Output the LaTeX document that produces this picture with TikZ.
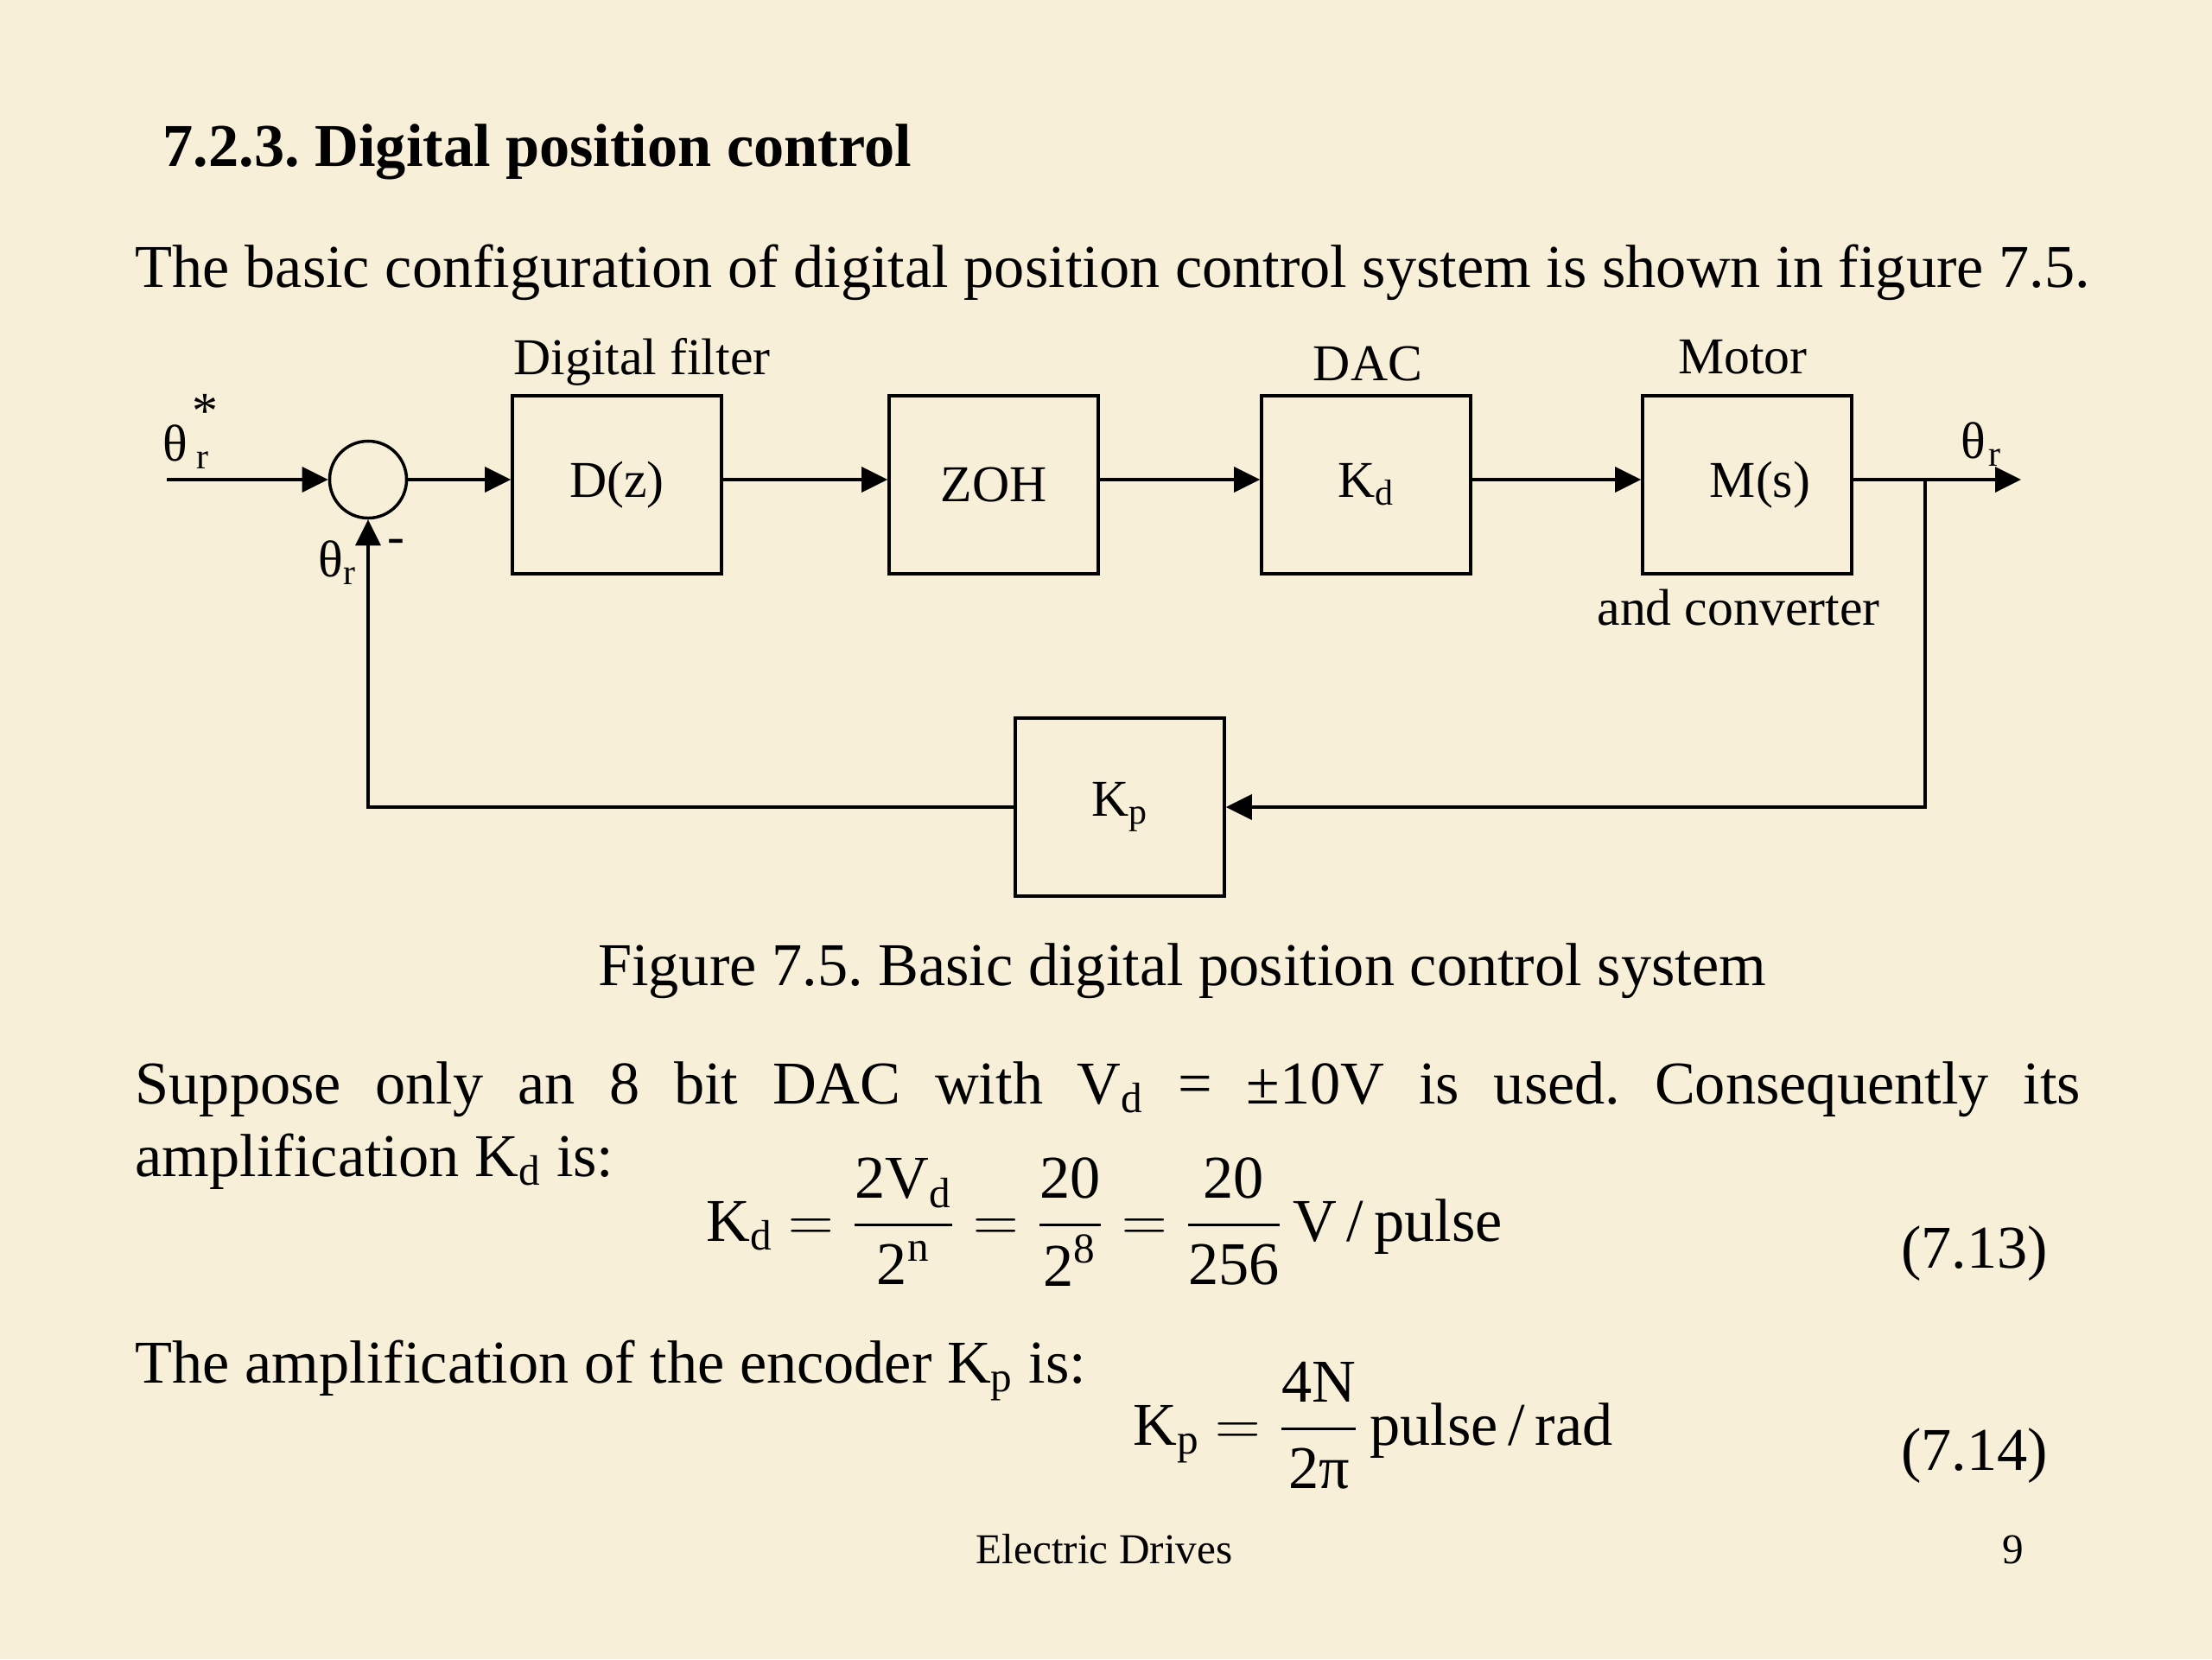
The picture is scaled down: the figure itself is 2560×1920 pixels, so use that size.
\documentclass[tikz,border=0pt]{standalone}
\usepackage{amsmath}
\usepackage{fontspec}
\setmainfont{Liberation Serif}
\usetikzlibrary{arrows.meta,positioning}
\definecolor{slidebg}{RGB}{247,239,216}
\newcommand{\bfrac}[2]{\genfrac{}{}{0.9pt}{0}{#1}{#2}}
\frenchspacing

\begin{document}
\begin{tikzpicture}[
  x=0.01cm, y=-0.01cm,
  block/.style={draw, line width=1pt, minimum width=2.42cm, minimum height=2.06cm, inner sep=0pt, font=\fontsize{17}{20}\selectfont},
  sumpt/.style={circle, draw, line width=1pt, minimum size=0.89cm, inner sep=0pt},
  lbl/.style={inner sep=0pt, font=\fontsize{17}{20}\selectfont},
  body/.style={inner sep=0pt, font=\fontsize{20}{24}\selectfont},
  foot/.style={inner sep=0pt, font=\fontsize{14}{17}\selectfont},
  sig/.style={line width=1pt, -{Triangle[length=0.3cm,width=0.29cm]}}
]
  \fill[slidebg] (0,0) rectangle (2560,1920);
  \useasboundingbox (0,0) rectangle (2560,1920);

  % text above the figure
  \node[body, anchor=base west, font=\fontsize{20}{24}\selectfont\bfseries] (title) at (188,192) {7.2.3. Digital position control};
  \node[body, anchor=base west] (intro) at (156,332) {The basic configuration of digital position control system is shown in figure 7.5.};

  % block diagram
  \coordinate (in) at (193,555);
  \node[sumpt] (sum) at (426,555) {};
  \node[block] (dz) at (714,561) {D(z)};
  \node[block] (zoh) at (1150,561) {ZOH};
  \node[block] (kd) at (1581,561) {K\textsubscript{d}};
  \node[block] (ms) at (2022,561) {\hspace{0.3cm}M(s)};
  \node[block] (kp) at (1296,934) {K\textsubscript{p}};
  \coordinate (br) at (2228,555);
  \coordinate (out) at (2339,555);

  \draw[sig] (in) -- (sum);
  \draw[sig] (sum) -- (sum -| dz.west);
  \draw[sig] (sum -| dz.east) -- (sum -| zoh.west);
  \draw[sig] (sum -| zoh.east) -- (sum -| kd.west);
  \draw[sig] (sum -| kd.east) -- (sum -| ms.west);
  \draw[sig] (sum -| ms.east) -- (out);
  \draw[sig] (br) |- (kp.east);
  \draw[sig] (kp.west) -| (sum.south);

  \node[lbl, anchor=base] (lfilt) at (743,433) {Digital filter};
  \node[lbl, anchor=base] (ldac) at (1583,440) {DAC};
  \node[lbl, anchor=base] (lmot) at (2017,432) {Motor};
  \node[lbl, anchor=base] (lconv) at (2012,723) {and converter};
  \node[lbl, anchor=base west] (thref) at (188,533) {θ\kern3pt\textsubscript{r}\kern-0.36em\raisebox{0.62em}{*}};
  \node[lbl, anchor=base west] (thout) at (2269,530) {θ\kern1pt\textsubscript{r}};
  \node[lbl, anchor=base west] (thfb) at (368,667) {θ\textsubscript{r}};
  \node[lbl] (minus) at (458,632) {-};

  % text below the figure
  \node[body, anchor=base] (caption) at (1368,1140) {Figure 7.5. Basic digital position control system};
  \node[body, anchor=base west] (para1) at (156,1277) {\makebox[22.5cm][s]{Suppose only an 8 bit DAC with V\textsubscript{d} = ±10V is used. Consequently its}};
  \node[body, anchor=base west] (para2) at (156,1361) {amplification K\textsubscript{d} is:};
  \node[body, anchor=base west] (eqkd) at (817,1436) {K\textsubscript{d} \(=\bfrac{\text{2V\textsubscript{d}}}{\text{2\textsuperscript{n}}}=\bfrac{\text{20}}{\text{2\textsuperscript{8}}}=\bfrac{\text{20}}{\text{256}}\)\,V\,/\,pulse};
  \node[body, anchor=base east] (num13) at (2371,1467) {(7.13)};
  \node[body, anchor=base west] (para3) at (156,1600) {The amplification of the encoder K\textsubscript{p} is:};
  \node[body, anchor=base west] (eqkp) at (1311,1672) {K\textsubscript{p} \(=\bfrac{\text{4N}}{\text{2π}}\)\,pulse\,/\,rad};
  \node[body, anchor=base east] (num14) at (2371,1701) {(7.14)};

  \node[foot, anchor=base] (fleft) at (1278,1809) {Electric Drives};
  \node[foot, anchor=base] (fpage) at (2330,1809) {9};
\end{tikzpicture}
\end{document}
